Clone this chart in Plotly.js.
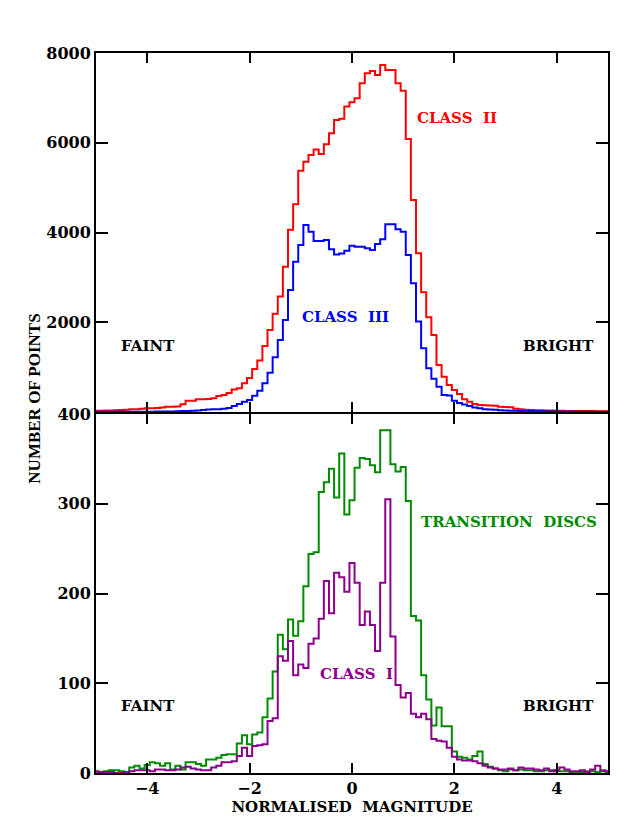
<!DOCTYPE html>
<html>
<head>
<meta charset="utf-8">
<script src="https://cdn.plot.ly/plotly-3.0.1.min.js"></script>
<style>html,body{margin:0;padding:0;background:#fff;}#chart{width:642px;height:830px;}</style>
</head>
<body>
<div id="chart"></div>
<script>
// Bin centres (normalised magnitude)
const binCentres = [-5.0,-4.9,-4.8,-4.7,-4.6,-4.5,-4.4,-4.3,-4.2,-4.1,-4.0,-3.9,-3.8,-3.7,-3.6,-3.5,-3.4,-3.3,-3.2,-3.1,
  -3.0,-2.9,-2.8,-2.7,-2.6,-2.5,-2.4,-2.3,-2.2,-2.1,-2.0,-1.9,-1.8,-1.7,-1.6,-1.5,-1.4,-1.3,-1.2,-1.1,
  -1.0,-0.9,-0.8,-0.7,-0.6,-0.5,-0.4,-0.3,-0.2,-0.1,0.0,0.1,0.2,0.3,0.4,0.5,0.6,0.7,0.8,0.9,
  1.0,1.1,1.2,1.3,1.4,1.5,1.6,1.7,1.8,1.9,2.0,2.1,2.2,2.3,2.4,2.5,2.6,2.7,2.8,2.9,
  3.0,3.1,3.2,3.3,3.4,3.5,3.6,3.7,3.8,3.9,4.0,4.1,4.2,4.3,4.4,4.5,4.6,4.7,4.8,4.9,5.0];

// Top panel: Class II and Class III
const classII = [30,30,35,35,40,45,50,60,60,75,82,82,90,100,119,119,125,171,252,252,
  282,282,290,304,356,379,425,500,527,639,760,960,1150,1470,1826,2190,2575,3238,4060,4630,
  5377,5577,5725,5850,5749,5964,6209,6506,6535,6810,6900,6990,7324,7547,7599,7508,7731,7620,7620,7324,
  7161,6082,4723,3536,2667,2110,1716,1047,787,602,490,401,282,230,178,156,150,145,140,115,
  110,105,75,60,50,45,40,38,35,32,30,28,25,25,22,22,20,20,18,18,15];
const classIII = [5,5,5,5,5,5,5,5,5,8,8,8,10,10,12,12,15,20,25,30,
  35,45,55,60,60,75,90,134,178,230,267,364,475,639,876,1218,1604,2050,2718,3349,
  3721,4166,4017,3810,3810,3832,3625,3510,3530,3595,3707,3685,3685,3647,3610,3744,3848,4182,4182,4071,
  4018,3499,2868,2014,1420,974,740,565,380,370,250,200,165,135,100,85,62,55,50,40,
  35,30,28,25,22,20,18,15,15,12,12,10,10,8,8,8,6,6,5,5,5];

// Bottom panel: Transition discs and Class I
const transitionDiscs = [1,1,2,3,3,2,1,6,8,5,9,12,11,8,11,4,8,4,12,12,
  10,8,15,15,17,20,21,21,33,42,32,43,45,62,83,113,154,138,171,153,
  169,208,244,246,313,324,339,307,356,288,304,340,351,350,343,335,382,382,344,336,
  341,303,175,170,109,82,53,73,52,52,24,18,17,15,19,24,10,7,5,3,
  2,4,3,4,3,3,2,2,3,3,2,2,2,1,1,1,2,2,1,2,1];
const classI = [2,1,1,1,0,0,1,2,3,3,3,2,4,4,3,3,4,6,7,5,
  4,3,3,6,8,12,12,13,19,28,19,30,31,32,58,61,130,125,147,109,
  121,117,144,150,172,214,178,223,218,202,234,212,165,180,165,136,212,305,152,98,
  84,89,66,62,66,60,38,36,35,28,18,15,14,14,13,11,8,6,5,4,
  4,5,3,6,5,5,4,3,5,2,3,6,4,2,2,3,1,4,8,3,2];

const xTicks = [-4,-2,0,2,4];
const topTicks = [2000,4000,6000,8000];
const bottomTicks = [0,100,200,300,400];

const SERIF = 'DejaVu Serif, serif';
const tickFont = {family: SERIF, size: 16, color: '#000', weight: 'bold'};

function stepTrace(y, color, xa, ya) {
  return {x: binCentres, y: y, type: 'scatter', mode: 'lines',
    line: {shape: 'hvh', color: color, width: 2}, xaxis: xa, yaxis: ya, hoverinfo: 'skip'};
}

const data = [
  stepTrace(classII, '#ff0000', 'x2', 'y2'),
  stepTrace(classIII, '#0000ff', 'x2', 'y2'),
  stepTrace(transitionDiscs, '#008c00', 'x', 'y'),
  stepTrace(classI, '#8c008c', 'x', 'y')
];

const axCommon = {showgrid: false, zeroline: false, showline: true, linecolor: '#000', linewidth: 2,
  mirror: 'ticks', ticks: 'inside', tickcolor: '#000', tickwidth: 2, fixedrange: true};

function ann(text, x, y, xref, yref, color) {
  return {text: '<b>' + text + '</b>', x: x, y: y, xref: xref, yref: yref, xanchor: 'left', yanchor: 'middle',
    showarrow: false, font: {family: SERIF, size: 15, color: color}};
}

const layout = {
  width: 642, height: 830,
  margin: {l: 96, r: 34, t: 53, b: 57},
  paper_bgcolor: '#fff', plot_bgcolor: '#fff',
  showlegend: false,
  xaxis: Object.assign({}, axCommon, {domain: [0, 1], anchor: 'y', range: [-5, 5], tickvals: xTicks,
    ticklen: 10, tickfont: tickFont,
    title: {text: '<b>NORMALISED  MAGNITUDE</b>', font: {family: SERIF, size: 15, color: '#000'}, standoff: 4}}),
  xaxis2: Object.assign({}, axCommon, {domain: [0, 1], anchor: 'y2', matches: 'x', range: [-5, 5], tickvals: xTicks,
    ticklen: 10, showticklabels: false}),
  yaxis: Object.assign({}, axCommon, {domain: [0, 0.5 - 1/720], anchor: 'x', range: [0, 400], tickvals: bottomTicks,
    ticklen: 12, tickfont: tickFont}),
  yaxis2: Object.assign({}, axCommon, {domain: [0.5 + 1/720, 1], anchor: 'x2', range: [0, 8000], tickvals: topTicks,
    ticklen: 12, tickfont: tickFont}),
  annotations: [
    ann('CLASS  II', 1.23, 6550, 'x2', 'y2', '#ff0000'),
    ann('CLASS  III', -1.02, 2117, 'x2', 'y2', '#0000ff'),
    ann('FAINT', -4.55, 1470, 'x2', 'y2', '#000'),
    ann('BRIGHT', 3.30, 1470, 'x2', 'y2', '#000'),
    ann('TRANSITION  DISCS', 1.31, 280, 'x', 'y', '#008c00'),
    ann('CLASS  I', -0.66, 110, 'x', 'y', '#8c008c'),
    ann('FAINT', -4.55, 75, 'x', 'y', '#000'),
    ann('BRIGHT', 3.30, 75, 'x', 'y', '#000'),
    {text: '<b>NUMBER OF POINTS</b>', xref: 'paper', yref: 'paper', x: -0.119, y: 0.52,
      xanchor: 'center', yanchor: 'middle', textangle: -90, showarrow: false,
      font: {family: 'Liberation Serif, serif', size: 17, color: '#000'}}
  ]
};

Plotly.newPlot('chart', data, layout, {staticPlot: true, displayModeBar: false});
</script>
</body>
</html>
